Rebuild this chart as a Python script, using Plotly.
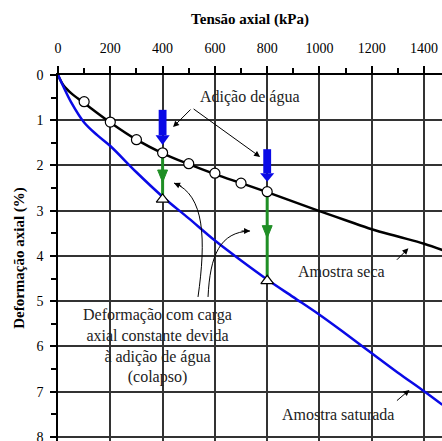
import plotly.graph_objects as go

# ---- data (kPa, %) ----
dry_x = [0, 20, 50, 100, 200, 300, 400, 500, 600, 700, 800, 900, 1000, 1100, 1200, 1300, 1400, 1470]
dry_y = [0, 0.22, 0.40, 0.62, 1.05, 1.43, 1.73, 1.97, 2.19, 2.39, 2.59, 2.80, 3.01, 3.21, 3.41, 3.57, 3.73, 3.87]

sat_x = [0, 20, 50, 100, 150, 200, 300, 400, 500, 600, 700, 800, 900, 1000, 1100, 1200, 1300, 1400, 1470]
sat_y = [0, 0.25, 0.60, 1.05, 1.33, 1.57, 2.15, 2.69, 3.17, 3.66, 4.10, 4.52, 4.91, 5.30, 5.72, 6.15, 6.58, 6.99, 7.29]

circ_x = [100, 200, 300, 400, 500, 600, 700, 800]
circ_y = [0.59, 1.04, 1.43, 1.72, 1.96, 2.17, 2.39, 2.58]

tri_x = [400, 800]
tri_y = [2.75, 4.55]

x_ticks = [0, 200, 400, 600, 800, 1000, 1200, 1400]
y_ticks = [0, 1, 2, 3, 4, 5, 6, 7, 8]

# water-addition arrows: (x, top, head base, tip)
blue_arrows = [(400, 0.77, 1.33, 1.55), (800, 1.64, 2.17, 2.36)]
# collapse arrows: (x, start, end, head base, head tip)
green_arrows = [(400, 1.72, 2.75, 2.10, 2.37), (800, 2.58, 4.55, 3.33, 3.60)]

FONT = "Times New Roman, Liberation Serif, DejaVu Serif, serif"
BLUE = "#0a0ae6"
GREEN = "#1f8f25"

fig = go.Figure()

fig.add_trace(go.Scatter(x=dry_x, y=dry_y, mode="lines",
                         line=dict(color="black", width=2.5, shape="spline", smoothing=1.0),
                         showlegend=False, hoverinfo="skip"))
fig.add_trace(go.Scatter(x=sat_x, y=sat_y, mode="lines",
                         line=dict(color=BLUE, width=2.5, shape="spline", smoothing=1.0),
                         showlegend=False, hoverinfo="skip"))

for gx, y0, y1, hb, ht in green_arrows:
    fig.add_trace(go.Scatter(x=[gx, gx], y=[y0, y1], mode="lines",
                             line=dict(color=GREEN, width=3), showlegend=False, hoverinfo="skip"))
    fig.add_shape(type="path", path=f"M {gx-19},{hb} L {gx+19},{hb} L {gx},{ht} Z",
                  fillcolor=GREEN, line=dict(color=GREEN, width=1), xref="x", yref="y")

for bx, top, hb, tip in blue_arrows:
    fig.add_shape(type="rect", x0=bx-15, x1=bx+15, y0=top, y1=hb,
                  fillcolor=BLUE, line=dict(color=BLUE, width=0), xref="x", yref="y")
    fig.add_shape(type="path", path=f"M {bx-27},{hb} L {bx+27},{hb} L {bx},{tip} Z",
                  fillcolor=BLUE, line=dict(color=BLUE, width=0), xref="x", yref="y")

fig.add_trace(go.Scatter(x=circ_x, y=circ_y, mode="markers",
                         marker=dict(symbol="circle", size=10, color="white",
                                     line=dict(color="black", width=1.2)),
                         showlegend=False, hoverinfo="skip"))
fig.add_trace(go.Scatter(x=tri_x, y=tri_y, mode="markers",
                         marker=dict(symbol="triangle-up", size=11, color="white",
                                     line=dict(color="black", width=1.2)),
                         showlegend=False, hoverinfo="skip"))

# curved pointer lines from the collapse note
fig.add_shape(type="path", path="M 535.5,4.906 C 566.1,3.646 562.3,2.652 443.7,2.387",
              line=dict(color="black", width=1), xref="x", yref="y")
fig.add_shape(type="path", path="M 573.8,4.906 C 581.4,3.978 619.7,3.470 734.4,3.448",
              line=dict(color="black", width=1), xref="x", yref="y")

arrow_kw = dict(showarrow=True, text="", arrowhead=2, arrowsize=1.2, arrowwidth=1,
                arrowcolor="black", xref="x", yref="y", standoff=0, startstandoff=0)
annos = [
    dict(x=443.7, y=2.387, ax=9, ay=4),
    dict(x=734.4, y=3.448, ax=-10, ay=0),
    dict(x=440, y=1.15, ax=19, ay=-19),
    dict(x=773, y=1.81, ax=-68, ay=-49),
    dict(x=1340, y=3.83, ax=-13, ay=13),
    dict(x=1344, y=6.96, ax=-14, ay=12),
]
for a in annos:
    fig.add_annotation(**a, **arrow_kw)

txt_font = dict(family=FONT, size=16, color="#222")
fig.add_annotation(x=734, y=0.49, text="Adição de água", showarrow=False, font=txt_font,
                   xref="x", yref="y")
fig.add_annotation(x=379, y=5.98, text="Deformação com carga<br>axial constante devida<br>à adição de água<br>(colapso)",
                   showarrow=False, font=txt_font, xref="x", yref="y", align="center")
fig.add_annotation(x=1086, y=4.35, text="Amostra seca", showarrow=False, font=txt_font,
                   xref="x", yref="y")
fig.add_annotation(x=1070, y=7.51, text="Amostra saturada", showarrow=False, font=txt_font,
                   xref="x", yref="y")

fig.update_layout(
    width=442, height=441,
    margin=dict(l=58, r=0, t=75, b=0),
    paper_bgcolor="white", plot_bgcolor="white",
    font=dict(family=FONT, color="black"),
    xaxis=dict(
        side="top", range=[0, 1468.5], tickvals=x_ticks, automargin="top",
        showgrid=True, gridcolor="#333", gridwidth=1.5, zeroline=False,
        showline=True, linecolor="black", linewidth=1.5,
        ticks="outside", ticklen=7, tickcolor="black", tickwidth=1.5,
        tickfont=dict(family=FONT, size=14, color="black"),
        ticklabelstandoff=8,
        minor=dict(dtick=100, tick0=0, ticks="outside", ticklen=5, tickcolor="black", showgrid=False),
        title=dict(text="<b>Tensão axial (kPa)</b>", font=dict(family=FONT, size=15, color="black"), standoff=12),
    ),
    yaxis=dict(
        range=[8.09, 0], tickvals=y_ticks, automargin="left",
        showgrid=True, gridcolor="#333", gridwidth=1.5, zeroline=False,
        showline=True, linecolor="black", linewidth=1.5,
        ticks="outside", ticklen=6, tickcolor="black", tickwidth=1.5,
        tickfont=dict(family=FONT, size=14, color="black"),
        ticklabelstandoff=4, ticklabeloverflow="allow",
        minor=dict(dtick=0.5, tick0=0, ticks="outside", ticklen=5, tickcolor="black", showgrid=False),
        title=dict(text="<b>Deformação axial (%)</b>", font=dict(family=FONT, size=15, color="black"), standoff=8),
    ),
)

fig.write_html("out.html")
